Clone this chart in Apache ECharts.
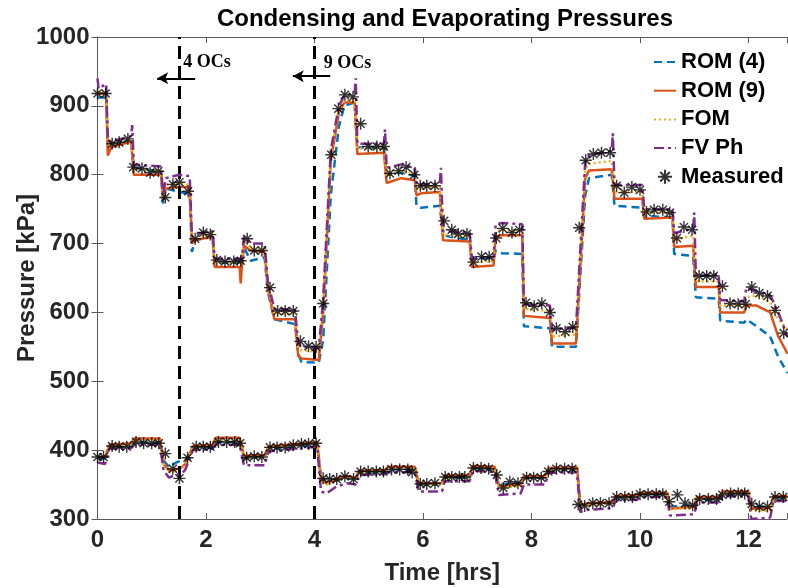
<!DOCTYPE html>
<html><head><meta charset="utf-8">
<script src="https://cdn.jsdelivr.net/npm/echarts@6/dist/echarts.min.js"></script>
<style>html,body{margin:0;padding:0;background:#fff}#c{width:788px;height:588px}</style>
</head><body><div id="c"></div>
<script>
// ---------- DATA ----------
const seriesNames = ['ROM (4)', 'ROM (9)', 'FOM', 'FV Ph', 'Measured'];
const xTicks = [0, 2, 4, 6, 8, 10, 12];
const ocLines = [1.5, 4.0];

// Condensing (upper) model curves
const tUp = [0.00,0.02,0.16,0.19,0.25,0.62,0.64,0.67,1.17,1.21,1.26,1.50,1.70,1.74,1.80,2.12,2.16,2.62,2.64,2.66,2.70,2.82,3.08,3.14,3.26,3.64,3.70,3.76,4.08,4.16,4.30,4.45,4.55,4.74,4.76,4.79,5.28,5.30,5.33,5.60,5.85,5.88,5.96,6.31,6.33,6.37,6.86,6.90,7.30,7.34,7.45,7.83,7.86,8.34,8.38,8.82,8.99,9.06,9.48,9.50,9.53,10.04,10.08,10.60,10.63,10.98,11.00,11.03,11.45,11.48,11.92,11.96,12.15,12.40,12.55,12.72];
const rom4Up = [912,912,912,850,845,850,850,810,805,757,780,775,772,688,705,710,672,672,672,672,695,675,680,630,590,583,540,528,527,560,770,870,900,905,905,840,838,838,800,803,798,755,752,755,755,712,705,680,678,690,686,685,580,577,550,550,770,795,800,800,755,752,740,738,685,682,682,622,620,588,585,590,580,565,535,512];
const rom9Up = [918,918,918,828,840,848,848,800,800,765,780,782,782,700,705,710,666,666,642,666,697,690,688,635,590,590,537,533,531,600,820,890,905,905,905,830,832,832,788,795,792,770,773,775,775,705,703,666,668,710,712,712,595,592,555,555,795,806,808,808,765,765,736,738,695,697,697,637,637,600,600,610,610,600,565,540];
const fomUp = [920,920,920,845,845,852,852,808,805,768,785,788,785,705,710,714,672,672,672,672,703,695,692,640,598,598,548,545,543,610,830,895,908,910,910,838,838,838,798,805,800,778,780,782,782,712,710,672,675,718,720,718,605,602,565,568,808,816,820,820,775,775,745,745,705,712,712,645,645,610,610,622,625,615,590,575];
const fvUp = [940,925,932,850,848,856,872,815,812,770,795,800,798,710,714,718,678,678,678,678,710,700,700,645,605,604,555,550,548,620,835,900,915,918,940,845,845,866,810,815,810,785,786,787,810,718,716,678,680,728,730,728,612,610,575,578,818,828,835,860,785,785,750,750,715,722,745,653,655,618,616,636,630,625,600,565];

// Evaporating (lower) model curves
const tLo = [0.00,0.14,0.22,0.62,0.68,1.15,1.22,1.32,1.45,1.55,1.62,1.76,2.12,2.18,2.62,2.70,3.08,3.15,3.50,4.05,4.12,4.22,4.40,4.60,4.76,4.82,5.30,5.36,5.85,5.92,6.35,6.40,6.86,6.92,7.32,7.40,7.80,7.86,8.25,8.32,8.84,8.90,9.00,9.50,9.55,9.95,10.00,10.50,10.55,11.00,11.05,11.46,11.52,12.00,12.05,12.40,12.46,12.72];
const rom4Lo = [388,388,404,406,412,412,385,375,382,385,385,402,404,412,412,388,390,402,404,408,360,352,356,360,358,367,368,372,372,350,350,360,360,373,372,350,352,360,360,370,372,320,322,323,330,332,335,335,318,320,328,328,336,336,318,318,330,330];
const rom9Lo = [390,390,408,410,417,417,380,370,372,375,380,406,408,418,418,392,393,405,408,412,358,352,358,362,360,370,371,376,376,352,352,363,363,377,376,348,350,362,362,374,375,320,322,325,333,335,338,338,315,318,332,332,340,340,315,316,333,333];
const fomLo = [390,390,405,407,414,414,380,368,370,373,378,404,405,414,414,388,390,403,405,409,355,350,356,360,358,368,369,373,373,350,350,360,360,374,373,345,348,360,360,371,372,318,320,322,330,332,335,335,314,316,329,329,337,337,312,312,330,330];
const fvLo = [382,380,402,403,408,408,370,360,365,365,372,400,402,408,408,378,378,398,401,405,340,337,347,352,350,364,365,368,368,340,340,355,355,370,368,335,337,350,350,367,368,310,313,316,327,328,332,332,305,307,324,324,333,333,300,302,326,326];

// Measured
const tMeasUp = [0,0.15,0.27,0.40,0.56,0.66,0.82,0.97,1.12,1.25,1.39,1.51,1.67,1.80,1.95,2.08,2.20,2.35,2.51,2.64,2.76,2.89,3.03,3.18,3.32,3.46,3.61,3.74,3.89,4.03,4.16,4.31,4.44,4.56,4.71,4.85,4.99,5.15,5.28,5.39,5.55,5.69,5.84,5.95,6.07,6.22,6.39,6.53,6.65,6.81,6.93,7.08,7.22,7.35,7.47,7.64,7.78,7.90,8.05,8.19,8.34,8.46,8.62,8.76,8.88,9.00,9.14,9.29,9.45,9.57,9.71,9.85,10.00,10.12,10.26,10.42,10.55,10.68,10.81,10.96,11.09,11.23,11.36,11.52,11.66,11.81,11.95,12.06,12.20,12.35,12.49,12.65];
const measUp = [918,918,845,847,852,811,809,803,805,767,786,789,776,707,716,713,676,674,674,675,707,690,690,636,602,602,602,558,551,550,613,829,896,916,913,874,841,841,841,802,806,811,800,784,784,784,733,720,714,714,673,681,681,708,722,716,720,614,609,613,600,577,572,579,723,821,830,832,832,784,774,782,778,746,749,749,745,708,724,720,653,653,653,638,613,612,612,637,628,624,603,570];
const tMeasLo = [0,0.11,0.27,0.40,0.54,0.71,0.85,1.00,1.13,1.25,1.39,1.51,1.66,1.82,1.95,2.08,2.23,2.38,2.53,2.63,2.75,2.89,3.03,3.18,3.31,3.46,3.61,3.76,3.89,4.03,4.16,4.28,4.41,4.56,4.72,4.85,4.99,5.14,5.27,5.42,5.57,5.72,5.80,5.95,6.07,6.22,6.41,6.53,6.67,6.77,6.93,7.07,7.21,7.36,7.48,7.60,7.75,7.91,8.04,8.18,8.31,8.46,8.61,8.75,8.86,8.98,9.13,9.27,9.43,9.57,9.72,9.86,10.00,10.15,10.30,10.42,10.54,10.69,10.83,10.97,11.10,11.26,11.41,11.52,11.67,11.81,11.93,12.06,12.20,12.35,12.49,12.64];
const measLo = [390,390,406,405,405,412,410,410,410,395,373,359,389,405,405,405,412,412,412,410,389,391,390,404,404,404,407,409,409,410,359,358,358,362,358,369,369,369,369,372,372,372,368,351,351,352,361,361,361,361,374,374,373,364,345,354,352,360,360,360,369,373,373,373,321,319,323,323,323,332,332,332,336,336,336,336,325,335,323,320,329,329,329,335,337,337,337,322,318,318,332,332];

// Annotations (data coords)
const ocText = [{text: '4 OCs', t: 1.58, p: 963}, {text: '9 OCs', t: 4.17, p: 962}];
const ocArrows = [{from: [1.80, 940], to: [1.10, 940]}, {from: [4.29, 943], to: [3.60, 943]}];

// ---------- CHART ----------
const zip = (t, v) => t.map((x, i) => [x, v[i]]);
const FONT = '"Liberation Sans", Arial, sans-serif';
const GRAY = '#262626';
const AX = '#5a5a5a';
const STAR = 'path://M5,0L5,10M0,5L10,5M1.6,1.6L8.4,8.4M8.4,1.6L1.6,8.4';

const styles = [
  {color: '#0072BD', type: [8, 5]},
  {color: '#D95319', type: 'solid'},
  {color: '#EDB120', type: [2, 3]},
  {color: '#7E2F8E', type: [10, 4, 3, 4]}
];
const upData = [rom4Up, rom9Up, fomUp, fvUp];
const loData = [rom4Lo, rom9Lo, fomLo, fvLo];

const series = [];
for (let i = 0; i < 4; i++) {
  [[tUp, upData[i]], [tLo, loData[i]]].forEach(([t, v]) => {
    series.push({
      name: seriesNames[i], type: 'line', data: zip(t, v), symbol: 'none',
      color: styles[i].color,
      lineStyle: {color: styles[i].color, width: 2.5, type: styles[i].type},
      z: 2 + i, animation: false
    });
  });
}
const measStyle = {color: 'rgba(0,0,0,0)', borderColor: '#000', borderWidth: 1.4};
series.push({
  name: seriesNames[4], type: 'scatter', data: zip(tMeasUp, measUp),
  symbol: STAR, symbolSize: 12, itemStyle: measStyle, z: 8, animation: false,
  markLine: {
    silent: true, symbol: ['none', 'none'], animation: false,
    label: {show: false},
    lineStyle: {color: '#000', width: 3, type: [13, 7]},
    data: ocLines.map(x => ({xAxis: x}))
  }
});
series.push({
  name: seriesNames[4], type: 'scatter', data: zip(tMeasLo, measLo),
  symbol: STAR, symbolSize: 12, itemStyle: measStyle, z: 8, animation: false,
  markLine: {
    silent: true, symbol: ['none', 'arrow'], symbolSize: [9, 11], animation: false,
    label: {show: false},
    lineStyle: {color: '#000', width: 2, type: 'solid'},
    data: ocArrows.map(a => [{coord: a.from}, {coord: a.to}])
  }
});

const xBase = {
  type: 'value', min: 0, max: 12.71, interval: 2,
  axisLine: {show: true, lineStyle: {color: AX, width: 1}},
  axisTick: {show: true, inside: true, length: 6, lineStyle: {color: AX}},
  splitLine: {show: false}
};
const yBase = {
  type: 'value', min: 300, max: 1000, interval: 100,
  axisLine: {show: true, lineStyle: {color: AX, width: 1}},
  axisTick: {show: true, inside: true, length: 6, lineStyle: {color: AX}},
  splitLine: {show: false}
};

const legendData = seriesNames.map((n, i) => i < 4
  ? {name: n, itemStyle: {color: 'rgba(0,0,0,0)', borderWidth: 0, opacity: 0}}
  : {name: n});

const chart = echarts.init(document.getElementById('c'), null, {renderer: 'canvas'});
chart.setOption({
  backgroundColor: '#fff',
  animation: false,
  title: {
    text: 'Condensing and Evaporating Pressures', left: 440, top: 2, textAlign: 'center',
    textStyle: {fontFamily: FONT, fontSize: 24, fontWeight: 'bold', color: '#000'}
  },
  grid: {left: 97.5, right: 1, top: 37, bottom: 69, containLabel: false, outerBoundsMode: 'none'},
  legend: {
    data: legendData, orient: 'vertical', left: 653, top: 51, padding: 0,
    itemWidth: 22, itemHeight: 14, itemGap: 6.7,
    textStyle: {fontFamily: FONT, fontSize: 22, fontWeight: 'bold', color: '#000', lineHeight: 22}
  },
  xAxis: [
    Object.assign({}, xBase, {
      position: 'bottom', name: 'Time [hrs]', nameLocation: 'middle', nameGap: 42,
      nameMoveOverlap: false,
      nameTextStyle: {fontFamily: FONT, fontSize: 24, fontWeight: 'bold', color: GRAY},
      axisLabel: {fontFamily: FONT, fontSize: 24, fontWeight: 'bold', color: GRAY, margin: 9,
        formatter: v => (xTicks.indexOf(v) >= 0 ? String(v) : '')}
    }),
    Object.assign({}, xBase, {position: 'top', axisLabel: {show: false}})
  ],
  yAxis: [
    Object.assign({}, yBase, {
      position: 'left', name: 'Pressure [kPa]', nameLocation: 'middle', nameGap: 58,
      nameMoveOverlap: false,
      nameTextStyle: {fontFamily: FONT, fontSize: 24, fontWeight: 'bold', color: GRAY},
      axisLabel: {fontFamily: FONT, fontSize: 24, fontWeight: 'bold', color: GRAY, margin: 8,
        formatter: v => String(v)}
    }),
    Object.assign({}, yBase, {position: 'right', axisLabel: {show: false}})
  ],
  series: series
});

// OC text labels placed through the axes
const g = ocText.map(o => {
  const p = chart.convertToPixel({xAxisIndex: 0, yAxisIndex: 0}, [o.t, o.p]);
  return {type: 'text', x: p[0], y: p[1], z: 20,
    style: {text: o.text, fill: '#000', font: 'bold 18px "Liberation Serif", "Times New Roman", serif',
      textAlign: 'left', textVerticalAlign: 'middle'}};
});
chart.setOption({graphic: g});
</script></body></html>
